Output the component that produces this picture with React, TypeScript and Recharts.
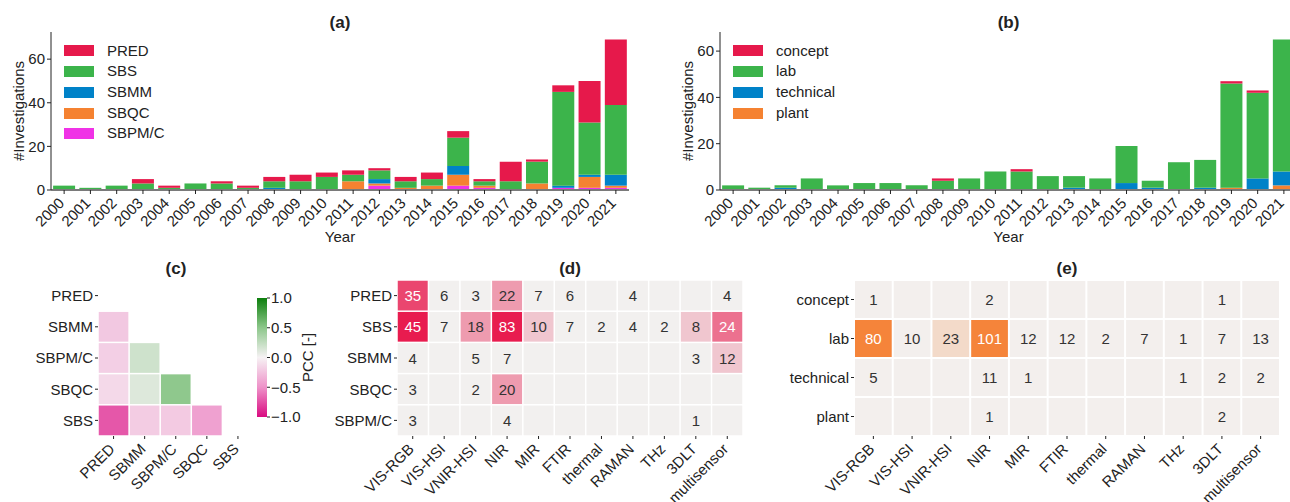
import { BarChart, Bar, XAxis, YAxis, Legend, ScatterChart, Scatter } from 'recharts'

const FONT = '"Liberation Sans", Arial, Helvetica, sans-serif'
const INK = '#222222'

// ---- shared categories / ticks
const years = [
  '2000', '2001', '2002', '2003', '2004', '2005', '2006', '2007', '2008', '2009', '2010',
  '2011', '2012', '2013', '2014', '2015', '2016', '2017', '2018', '2019', '2020', '2021',
]
const countTicks = [0, 20, 40, 60]
const sensors = [
  'VIS-RGB', 'VIS-HSI', 'VNIR-HSI', 'NIR', 'MIR', 'FTIR', 'thermal', 'RAMAN', 'THz', '3DLT', 'multisensor',
]

// ---- (a) investigations per year by goal (stack order bottom -> top)
const aSBPMC = [0, 0, 0, 0, 0, 0, 0, 0, 0, 0, 0, 0, 2, 0, 0, 2, 1, 0, 0, 1, 1, 1]
const aSBQC  = [0, 0, 0, 0, 0, 0, 0, 0, 0, 0, 0, 4, 1, 1, 2, 5, 1, 0, 3, 0, 5, 1]
const aSBMM  = [0, 0, 0, 0, 0, 0, 0, 0, 1, 0, 0, 0, 2, 0, 0, 4, 0, 0, 0, 1, 1, 5]
const aSBS   = [2, 1, 2, 3, 1, 3, 3, 1, 3, 4, 6, 3, 4, 3, 3, 13, 2, 4, 10, 43, 24, 32]
const aPRED  = [0, 0, 0, 2, 1, 0, 1, 1, 2, 3, 2, 2, 1, 2, 3, 3, 1, 9, 1, 3, 19, 30]

// ---- (b) investigations per year by scale
const bPlant     = [0, 0, 0, 0, 0, 0, 0, 0, 0, 0, 0, 0, 0, 0, 0, 0, 0, 0, 0, 1, 0, 2]
const bTechnical = [0, 0, 1, 0, 0, 0, 0, 0, 0, 0, 0, 0, 0, 1, 0, 3, 1, 0, 1, 0, 5, 6]
const bLab       = [2, 1, 1, 5, 2, 3, 3, 2, 4, 5, 8, 8, 6, 5, 5, 16, 3, 12, 12, 45, 37, 57]
const bConcept   = [0, 0, 0, 0, 0, 0, 0, 0, 1, 0, 0, 1, 0, 0, 0, 0, 0, 0, 0, 1, 1, 0]

// ---- (c) Pearson correlation between goals (lower triangle, row by row)
const corrLabels = ['PRED', 'SBMM', 'SBPM/C', 'SBQC', 'SBS']
const corrSBMM = [-0.22]
const corrSBPMC = [-0.18, 0.19]
const corrSBQC = [-0.13, 0.12, 0.49]
const corrSBS = [-0.72, -0.2, -0.21, -0.42]
const pccTicks = [-1, -0.5, 0, 0.5, 1]

// ---- (d) goal x sensor counts
const goalRows = ['PRED', 'SBS', 'SBMM', 'SBQC', 'SBPM/C']
const dPRED  = [35, 6, 3, 22, 7, 6, null, 4, null, null, 4]
const dSBS   = [45, 7, 18, 83, 10, 7, 2, 4, 2, 8, 24]
const dSBMM  = [4, null, 5, 7, null, null, null, null, null, 3, 12]
const dSBQC  = [3, null, 2, 20, null, null, null, null, null, null, null]
const dSBPMC = [3, null, null, 4, null, null, null, null, null, 1, null]

// ---- (e) scale x sensor counts
const scaleRows = ['concept', 'lab', 'technical', 'plant']
const eConcept   = [1, null, null, 2, null, null, null, null, null, 1, null]
const eLab       = [80, 10, 23, 101, 12, 12, 2, 7, 1, 7, 13]
const eTechnical = [5, null, null, 11, 1, null, null, null, 1, 2, 2]
const ePlant     = [null, null, null, 1, null, null, null, null, null, 2, null]

// ---- colour helpers
const hex = (c: string) => [1, 3, 5].map((i) => parseInt(c.slice(i, i + 2), 16))
const mix = (a: string, b: string, t: number) => {
  const ca = hex(a)
  const cb = hex(b)
  return `rgb(${ca.map((v, i) => Math.round(v + (cb[i] - v) * t)).join(',')})`
}

const pccStops: [number, string][] = [
  [-1, '#d90b80'],
  [-0.5, '#ee92c9'],
  [0, '#f6f2f4'],
  [0.5, '#8dc78b'],
  [1, '#0c7f0c'],
]
const pccColor = (v: number) => {
  for (let i = 1; i < pccStops.length; i++) {
    const [v0, c0] = pccStops[i - 1]
    const [v1, c1] = pccStops[i]
    if (v <= v1) return mix(c0, c1, (v - v0) / (v1 - v0))
  }
  return pccStops[pccStops.length - 1][1]
}

// discrete 6-step palette, like a binned light_palette
const binned = (lo: string, hi: string, vmax: number) => (v: number | null) => {
  const bin = v === null ? 0 : Math.min(5, Math.floor(v / (vmax / 6)))
  return { fill: mix(lo, hi, bin / 5), ink: bin >= 3 ? '#ffffff' : '#333333' }
}
const goalPalette = binned('#f2f0ef', '#e81c4f', 45)
const scalePalette = binned('#f3efed', '#f5843a', 80)

type Series = { name: string; color: string; values: number[] }

const goalSeries: Series[] = [
  { name: 'SBPM/C', color: '#f032e6', values: aSBPMC },
  { name: 'SBQC', color: '#f58231', values: aSBQC },
  { name: 'SBMM', color: '#0082c8', values: aSBMM },
  { name: 'SBS', color: '#3cb44b', values: aSBS },
  { name: 'PRED', color: '#e6194b', values: aPRED },
]
const scaleSeries: Series[] = [
  { name: 'plant', color: '#f58231', values: bPlant },
  { name: 'technical', color: '#0082c8', values: bTechnical },
  { name: 'lab', color: '#3cb44b', values: bLab },
  { name: 'concept', color: '#e6194b', values: bConcept },
]

const RotTick = (props: any) => {
  const { x, y, payload, labels, dx = 0, dy = 0 } = props
  const label = labels ? labels[payload.value] : payload.value
  const tx = x + dx
  const ty = y + dy
  return (
    <text x={tx} y={ty} transform={`rotate(-45 ${tx} ${ty})`} textAnchor="end" fontSize={15} fill={INK}>
      {label}
    </text>
  )
}

const LegendBox = ({ items }: { items: Series[] }) => (
  <div style={{ fontSize: 15, color: INK, lineHeight: '20.7px' }}>
    {items.map((it) => (
      <div key={it.name} style={{ display: 'flex', alignItems: 'center', height: 20.7 }}>
        <span style={{ display: 'inline-block', width: 30, height: 11, background: it.color, marginRight: 13 }} />
        <span>{it.name}</span>
      </div>
    ))}
  </div>
)

function YearBars({ series, yMax, left, axisW, plotW, right, labelX, legendX }: {
  series: Series[]; yMax: number; left: number; axisW: number; plotW: number; right: number; labelX: number; legendX: number
}) {
  const data = years.map((year, i) => {
    const row: Record<string, string | number> = { year }
    series.forEach((s) => { row[s.name] = s.values[i] })
    return row
  })
  return (
    <div style={{ position: 'absolute', left, top: 0 }}>
      <BarChart width={axisW + plotW + right} height={250} data={data}
        margin={{ top: 32, right, bottom: 8, left: 0 }} barCategoryGap="8%">
        <XAxis dataKey="year" interval={0} height={52} tickSize={4}
          tickLine={{ stroke: INK }} axisLine={{ stroke: '#7a7a7a', strokeWidth: 2 }}
          tick={(p: any) => <RotTick {...p} dx={1} dy={8} />}
          label={{ value: 'Year', position: 'insideBottom', offset: 0, fill: INK, fontSize: 15 }} />
        <YAxis domain={[0, yMax]} ticks={countTicks} width={axisW} tickSize={4}
          axisLine={{ stroke: INK }} tickLine={{ stroke: INK }} tick={{ fontSize: 15, fill: INK }}
          label={{ value: '#Investigations', angle: -90, position: 'insideLeft', offset: labelX,
            fill: INK, fontSize: 15, style: { textAnchor: 'middle' } }} />
        <Legend layout="vertical" align="center" verticalAlign="middle"
          wrapperStyle={{ left: legendX, top: 40.6, width: 'auto', height: 'auto' }}
          content={() => <LegendBox items={[...series].reverse()} />} />
        {series.map((s) => (
          <Bar key={s.name} dataKey={s.name} stackId="a" fill={s.color} isAnimationActive={false} />
        ))}
      </BarChart>
    </div>
  )
}

type HCell = { x: number; y: number; v: number | null; fill: string; ink: string }

function Heatmap({ left, axisW, plotW, plotH, right, rows, cols, cells, gap, showText }: {
  left: number; axisW: number; plotW: number; plotH: number; right: number
  rows: string[]; cols: string[]; cells: HCell[]; gap: number; showText: boolean
}) {
  const cw = plotW / cols.length
  const ch = plotH / rows.length
  const top = 30
  const height = 252
  const shape = (p: any) => {
    const { cx, cy, payload } = p
    return (
      <g>
        <rect x={cx - cw / 2 + gap / 2} y={cy - ch / 2 + gap / 2} width={cw - gap} height={ch - gap} fill={payload.fill} />
        {showText && payload.v !== null && (
          <text x={cx} y={cy} textAnchor="middle" dominantBaseline="central" fontSize={15} fill={payload.ink}>
            {payload.v}
          </text>
        )}
      </g>
    )
  }
  return (
    <div style={{ position: 'absolute', left, top: 250 }}>
      <ScatterChart width={axisW + plotW + right} height={height} margin={{ top, right, bottom: 0, left: 0 }}>
        <XAxis type="number" dataKey="x" domain={[-0.5, cols.length - 0.5]} ticks={cols.map((_, i) => i)}
          interval={0} height={height - top - plotH} axisLine={false} tickSize={3} tickLine={{ stroke: INK }}
          tick={(t: any) => <RotTick {...t} labels={cols} dx={2} dy={9} />} />
        <YAxis type="number" dataKey="y" reversed domain={[-0.5, rows.length - 0.5]} ticks={rows.map((_, i) => i)}
          interval={0} width={axisW} axisLine={false} tickSize={3} tickLine={{ stroke: INK }}
          tick={{ fontSize: 15, fill: INK }} tickFormatter={(v: number) => rows[v]} />
        <Scatter data={cells} shape={shape} isAnimationActive={false} />
      </ScatterChart>
    </div>
  )
}

const countCells = (matrix: (number | null)[][], palette: (v: number | null) => { fill: string; ink: string }) =>
  matrix.flatMap((row, y) => row.map((v, x) => ({ x, y, v, ...palette(v) })))

const Title = ({ text, cx, cy }: { text: string; cx: number; cy: number }) => (
  <div style={{ position: 'absolute', left: cx - 40, top: cy - 11, width: 80, textAlign: 'center',
    fontSize: 17, fontWeight: 'bold', lineHeight: '20px', color: INK }}>
    {text}
  </div>
)

export default function App() {
  const corrRows = [[], corrSBMM, corrSBPMC, corrSBQC, corrSBS]
  const corrCells: HCell[] = corrRows.flatMap((row, y) =>
    row.map((v, x) => ({ x, y, v, fill: pccColor(v), ink: INK })))
  const dCells = countCells([dPRED, dSBS, dSBMM, dSBQC, dSBPMC], goalPalette)
  const eCells = countCells([eConcept, eLab, eTechnical, ePlant], scalePalette)

  const cbData = [{ name: 'PCC', range: [pccTicks[0], pccTicks[pccTicks.length - 1]] }]

  return (
    <div style={{ position: 'absolute', left: 0, top: 0, width: 1290, height: 502, overflow: 'hidden',
      background: '#ffffff', fontFamily: FONT }}>
      <YearBars series={goalSeries} yMax={72.45} left={0} axisW={51} plotW={578} right={21} labelX={19} legendX={64} />
      <YearBars series={scaleSeries} yMax={68.25} left={660} axisW={60} plotW={577} right={23} labelX={27.5} legendX={73} />

      <Heatmap left={0} axisW={98} plotW={155.5} plotH={156} right={6.5} rows={corrLabels} cols={corrLabels}
        cells={corrCells} gap={1.5} showText={false} />

      <div style={{ position: 'absolute', left: 240, top: 250 }}>
        <BarChart width={110} height={252} data={cbData} margin={{ top: 48, right: 23, bottom: 85, left: 17 }}
          barCategoryGap={0}>
          <defs>
            <linearGradient id="pccGrad" x1="0" y1="0" x2="0" y2="1">
              {[...pccStops].reverse().map(([v, c]) => (
                <stop key={v} offset={`${((1 - v) / 2) * 100}%`} stopColor={c} />
              ))}
            </linearGradient>
          </defs>
          <XAxis dataKey="name" hide />
          <YAxis orientation="right" domain={[-1, 1]} ticks={pccTicks} width={60} axisLine={false}
            tickSize={3} tickMargin={1} tickLine={{ stroke: INK }} tick={{ fontSize: 15, fill: INK, textAnchor: 'start' }}
            tickFormatter={(v: number) => v.toFixed(1).replace('-', '\u2212')}
            label={{ value: 'PCC [-]', angle: -90, position: 'insideRight', offset: 19, fill: INK, fontSize: 15,
              style: { textAnchor: 'middle' } }} />
          <Bar dataKey="range" fill="url(#pccGrad)" isAnimationActive={false} />
        </BarChart>
      </div>

      <Heatmap left={300} axisW={97} plotW={346} plotH={156} right={17} rows={goalRows} cols={sensors}
        cells={dCells} gap={1.5} showText />
      <Heatmap left={760} axisW={94} plotW={426} plotH={156} right={10} rows={scaleRows} cols={sensors}
        cells={eCells} gap={2} showText />

      <Title text="(a)" cx={340} cy={24} />
      <Title text="(b)" cx={1008.5} cy={24} />
      <Title text="(c)" cx={176} cy={270} />
      <Title text="(d)" cx={570} cy={270} />
      <Title text="(e)" cx={1067} cy={270} />
    </div>
  )
}
